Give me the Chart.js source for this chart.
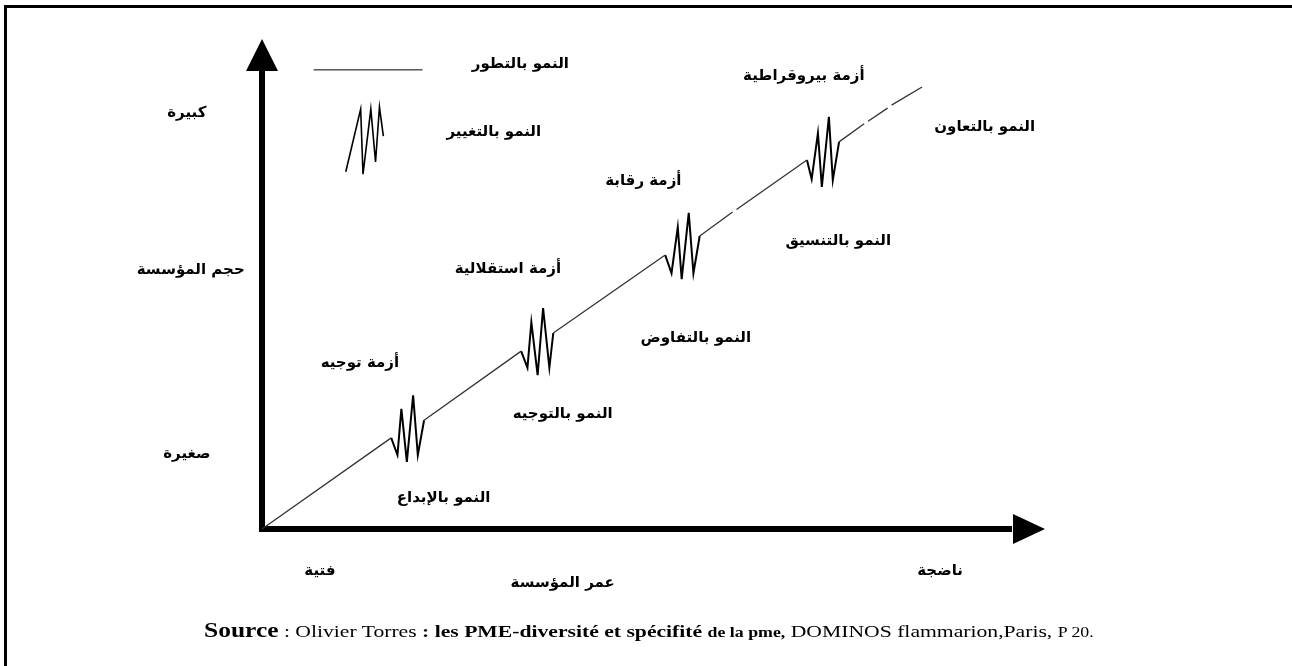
<!DOCTYPE html>
<html>
<head>
<meta charset="utf-8">
<script src="https://cdn.jsdelivr.net/npm/chart.js@4"></script>
<style>
  body { margin: 0; background: #fff; }
  #wrap { position: relative; width: 1292px; height: 666px; overflow: hidden; }
  #chart { position: absolute; left: 0; top: 0; }
  #source {
    position: absolute; left: 204px; top: 619px;
    font-family: "Liberation Serif", "Times New Roman", serif;
    font-size: 17px; white-space: nowrap; color: #000;
    transform-origin: 0 0;
  }
  #source .big { font-size: 20px; font-weight: bold; }
  #source .small { font-size: 14px; }
</style>
</head>
<body>
<div id="wrap">
  <canvas id="chart" width="1292" height="666"></canvas>
  <div id="source"><span class="big">Source</span> : Olivier Torres <b>: les PME-diversité et spécifité</b> <b class="small">de la pme,</b> DOMINOS flammarion,Paris, <span class="small">P 20.</span></div>
</div>
<script>
// Greiner growth model: size (y) against age (x), both on a 0-100 scale

// text of the diagram
const growthLabels = ["النمو بالإبداع", "النمو بالتوجيه", "النمو بالتفاوض", "النمو بالتنسيق", "النمو بالتعاون"];
const crisisLabels = ["أزمة توجيه", "أزمة استقلالية", "أزمة رقابة", "أزمة بيروقراطية"];
const legendLabels = ["النمو بالتطور", "النمو بالتغيير"];
const sizeTicks = ["صغيرة", "كبيرة"];
const ageTicks = ["فتية", "ناضجة"];
const sizeTitle = "حجم المؤسسة";
const ageTitle = "عمر المؤسسة";

// evolution line (null = break in the printed line)
const evolutionAge  = [0, 16.5, null, 20.7, 33.1, null, 37.2, 51.5, null, 55.9, 60.1, null, 60.6, 69.6, null, 73.7, 76.9, null, 77.4, 79.9, null, 80.4, 84.3];
const evolutionSize = [0, 18.6, null, 22.2, 36.3, null, 40.0, 55.9, null, 59.8, 64.7, null, 65.2, 75.3, null, 79.0, 82.7, null, 83.2, 85.9, null, 86.5, 90.2];

// revolution zigzags (crises), separated by null
const crisisAge  = [16.5, 17.3, 17.8, 18.5, 19.3, 19.9, 20.7, null,
                    33.1, 33.9, 34.4, 35.2, 35.9, 36.7, 37.2, null,
                    51.5, 52.3, 53.1, 53.6, 54.5, 55.1, 55.9, null,
                    69.6, 70.2, 71.0, 71.5, 72.4, 72.9, 73.7];
const crisisSize = [18.6, 15.1, 24.5, 13.7, 27.3, 15.1, 22.2, null,
                    36.3, 32.9, 42.2, 31.4, 45.1, 32.9, 40.0, null,
                    55.9, 52.2, 61.6, 51.0, 64.5, 52.2, 59.8, null,
                    75.3, 71.4, 80.8, 69.8, 84.1, 71.2, 79.0];

// legend samples
const legendLineAge  = [6.6, 20.5];
const legendLineSize = [93.7, 93.7];
const legendZigAge  = [10.7, 12.6, 12.9, 13.9, 14.5, 15.0, 15.5];
const legendZigSize = [72.9, 85.7, 72.4, 85.7, 74.9, 86.1, 80.2];

const zip = (xs, ys) => xs.map((x, i) => ({ x: x, y: ys[i] }));

// where the texts sit, in chart units
const growthSpots = [[23.2, 6.3], [38.4, 23.5], [55.4, 39.0], [73.6, 58.8], [92.3, 82.0]];
const crisisSpots = [[12.5, 33.9], [31.4, 53.1], [48.7, 71.0], [69.2, 92.4]];
const legendSpots = [[33.0, 94.8], [29.6, 80.9]];

const diagramPlugin = {
  id: "diagram",
  beforeDatasetsDraw(chart) {
    const ctx = chart.ctx;
    const xs = chart.scales.x, ys = chart.scales.y;
    const ox = xs.getPixelForValue(0), oy = ys.getPixelForValue(0);
    const tx = xs.getPixelForValue(100), ty = ys.getPixelForValue(100);
    ctx.save();
    ctx.fillStyle = "#000";
    // frame
    ctx.fillRect(4, 5, 1288, 3);
    ctx.fillRect(4, 5, 3, 661);
    // axes
    ctx.fillRect(ox - 3, ty + 30, 6, oy - ty - 27);
    ctx.fillRect(ox - 3, oy - 3, tx - ox - 30, 6);
    ctx.beginPath();
    ctx.moveTo(ox, ty);
    ctx.lineTo(ox - 16, ty + 32);
    ctx.lineTo(ox + 16, ty + 32);
    ctx.closePath();
    ctx.fill();
    ctx.beginPath();
    ctx.moveTo(tx, oy);
    ctx.lineTo(tx - 32, oy - 15);
    ctx.lineTo(tx - 32, oy + 15);
    ctx.closePath();
    ctx.fill();
    ctx.restore();
  },
  afterDraw(chart) {
    const ctx = chart.ctx;
    const xs = chart.scales.x, ys = chart.scales.y;
    const put = (t, a, s) => ctx.fillText(t, xs.getPixelForValue(a), ys.getPixelForValue(s));
    ctx.save();
    ctx.fillStyle = "#000";
    ctx.font = "bold 15px 'DejaVu Sans'";
    ctx.textAlign = "center";
    ctx.textBaseline = "middle";
    ctx.direction = "rtl";
    growthLabels.forEach((t, i) => put(t, growthSpots[i][0], growthSpots[i][1]));
    crisisLabels.forEach((t, i) => put(t, crisisSpots[i][0], crisisSpots[i][1]));
    legendLabels.forEach((t, i) => put(t, legendSpots[i][0], legendSpots[i][1]));
    put(sizeTicks[1], -9.6, 84.9);
    put(sizeTitle, -9.1, 52.9);
    put(sizeTicks[0], -9.6, 15.3);
    put(ageTicks[0], 7.4, -8.6);
    put(ageTitle, 38.4, -11.0);
    put(ageTicks[1], 86.6, -8.6);
    ctx.restore();
  }
};

new Chart(document.getElementById("chart"), {
  type: "scatter",
  data: {
    datasets: [
      { data: zip(evolutionAge, evolutionSize), showLine: true, borderColor: "#333", borderWidth: 1.3, pointRadius: 0, spanGaps: false },
      { data: zip(crisisAge, crisisSize), showLine: true, borderColor: "#000", borderWidth: 2, pointRadius: 0, spanGaps: false },
      { data: zip(legendLineAge, legendLineSize), showLine: true, borderColor: "#000", borderWidth: 1, pointRadius: 0 },
      { data: zip(legendZigAge, legendZigSize), showLine: true, borderColor: "#000", borderWidth: 1.6, pointRadius: 0 }
    ]
  },
  options: {
    responsive: false,
    animation: false,
    devicePixelRatio: 1,
    clip: false,
    layout: { padding: { left: 262, right: 247, top: 39, bottom: 137 } },
    scales: {
      x: { type: "linear", min: 0, max: 100, display: false },
      y: { type: "linear", min: 0, max: 100, display: false }
    },
    plugins: { legend: { display: false }, tooltip: { enabled: false } }
  },
  plugins: [diagramPlugin]
});

// the printed source line is stretched to span 204..1094
const src = document.getElementById("source");
src.style.transform = "scaleX(" + (890 / src.offsetWidth) + ")";
</script>
</body>
</html>
